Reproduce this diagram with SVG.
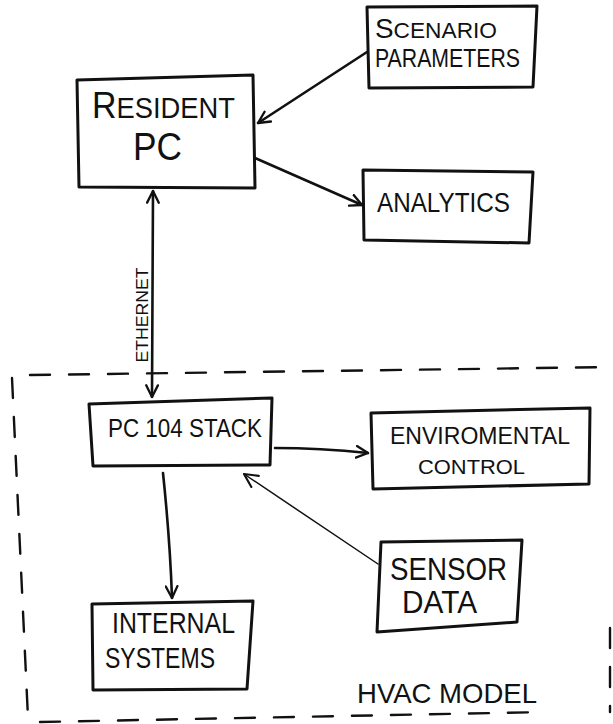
<svg xmlns="http://www.w3.org/2000/svg" width="613" height="724" viewBox="0 0 613 724">
<defs>
<style>
.box{fill:none;stroke:#111;stroke-width:3;stroke-linejoin:round;stroke-linecap:round}
.edge{fill:none;stroke:#111;stroke-width:2.6;stroke-linecap:round}
.thin{fill:none;stroke:#111;stroke-width:1.5;stroke-linecap:round}
.dash{fill:none;stroke:#111;stroke-width:2.4;stroke-dasharray:20 19;stroke-linecap:round}
text{font-family:"Liberation Sans",Arial,sans-serif;fill:#111}
</style>
<marker id="ah" viewBox="0 0 12 12" refX="11" refY="6" markerWidth="14" markerHeight="14" markerUnits="userSpaceOnUse" orient="auto-start-reverse">
<path d="M1,1 L11,6 L1,11" fill="none" stroke="#111" stroke-width="2" stroke-linecap="round" stroke-linejoin="round"/>
</marker>
<marker id="ah2" viewBox="0 0 12 12" refX="11" refY="6" markerWidth="16" markerHeight="16" markerUnits="userSpaceOnUse" orient="auto">
<path d="M1,1 L11,6 L1,11" fill="none" stroke="#111" stroke-width="1.6" stroke-linecap="round" stroke-linejoin="round"/>
</marker>
</defs>
<rect width="613" height="724" fill="#fff"/>

<g id="boundary">
<path class="dash" d="M30,375 L613,367"/>
<path class="dash" d="M12,378 L28,718"/>
<path class="dash" d="M40,722 L545,712"/>
<path class="dash" d="M610,628 L610,712"/>
<text x="357" y="703" font-size="28" textLength="180" lengthAdjust="spacingAndGlyphs">HVAC MODEL</text>
</g>

<g id="connectors">
<path class="edge" d="M367,52 L258,123" marker-end="url(#ah)"/>
<path class="edge" d="M255,158 L362,205" marker-end="url(#ah)"/>
<path class="edge" d="M153,191 L152,397" marker-start="url(#ah)" marker-end="url(#ah)"/>
<path class="edge" d="M275,448 Q320,448 368,453" marker-end="url(#ah)"/>
<path class="edge" d="M163,473 Q170,540 172,598" marker-end="url(#ah)"/>
<path class="thin" d="M378,564 L244,474" marker-end="url(#ah2)"/>
<text transform="translate(148,315) rotate(-90)" text-anchor="middle" font-size="17" textLength="95" lengthAdjust="spacingAndGlyphs">ETHERNET</text>
</g>

<g id="resident-pc">
<path class="box" d="M77,80 L253,75 L255,188 L79,187 Z"/>
<text x="92" y="118" font-size="29" textLength="143" lengthAdjust="spacingAndGlyphs"><tspan font-size="36">R</tspan>ESIDENT</text>
<text x="133" y="160" font-size="39" textLength="49" lengthAdjust="spacingAndGlyphs">PC</text>
</g>

<g id="scenario-parameters">
<path class="box" d="M367,7 L537,6 L533,87 L369,88 Z"/>
<text x="375" y="38" font-size="22" textLength="122" lengthAdjust="spacingAndGlyphs"><tspan font-size="27">S</tspan>CENARIO</text>
<text x="375" y="67" font-size="26" textLength="145" lengthAdjust="spacingAndGlyphs">PARAMETERS</text>
</g>

<g id="analytics">
<path class="box" d="M363,170 L533,172 L529,243 L364,240 Z"/>
<text x="377" y="212" font-size="28" textLength="133" lengthAdjust="spacingAndGlyphs">ANALYTICS</text>
</g>

<g id="pc104-stack">
<path class="box" d="M89,404 L272,398 L270,465 L93,466 Z"/>
<text x="108" y="437" font-size="26" textLength="154" lengthAdjust="spacingAndGlyphs">PC 104 STACK</text>
</g>

<g id="environmental-control">
<path class="box" d="M371,413 L590,408 L589,484 L373,489 Z"/>
<text x="390" y="444" font-size="24" textLength="180" lengthAdjust="spacingAndGlyphs">ENVIROMENTAL</text>
<text x="418" y="474" font-size="21" textLength="107" lengthAdjust="spacingAndGlyphs">CONTROL</text>
</g>

<g id="sensor-data">
<path class="box" d="M381,542 L522,540 L517,622 L377,632 Z"/>
<text x="390" y="580" font-size="32" textLength="117" lengthAdjust="spacingAndGlyphs">SENSOR</text>
<text x="402" y="613" font-size="32" textLength="75" lengthAdjust="spacingAndGlyphs">DATA</text>
</g>

<g id="internal-systems">
<path class="box" d="M92,604 L253,601 L247,689 L93,690 Z"/>
<text x="112" y="633" font-size="30" textLength="123" lengthAdjust="spacingAndGlyphs">INTERNAL</text>
<text x="105" y="668" font-size="30" textLength="110" lengthAdjust="spacingAndGlyphs">SYSTEMS</text>
</g>
</svg>
